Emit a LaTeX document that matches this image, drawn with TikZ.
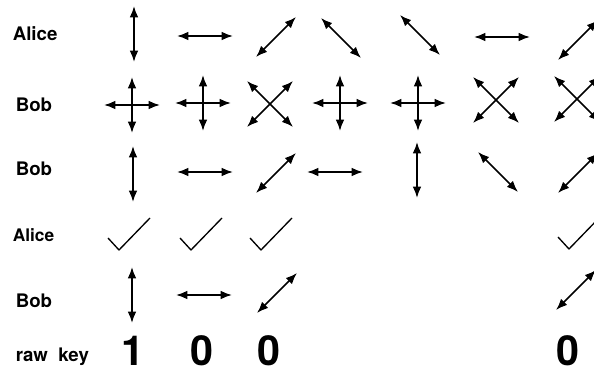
\documentclass[tikz,border=0pt]{standalone}
\usepackage{fontspec}
\setsansfont{TeX Gyre Heros}
\usetikzlibrary{arrows.meta}

\begin{document}
\begin{tikzpicture}[
  x=0.75pt, y=-0.75pt,
  >={Latex[length=8.5pt,width=6.5pt]}, line width=1.25pt,
  who/.style={anchor=base west, inner sep=0pt,
              font=\sffamily\bfseries\fontsize{14}{16}\selectfont},
  bit/.style={anchor=base, inner sep=0pt,
              font=\sffamily\bfseries\fontsize{31}{34}\selectfont},
  vert/.pic={\draw[<->] (0,-28) -- (0,28);},
  horz/.pic={\draw[<->] (-28,0) -- (28,0);},
  diag/.pic={\draw[<->] (-20,20) -- (20,-20);},
  adiag/.pic={\draw[<->] (-20,-20) -- (20,20);},
  plus/.pic={\draw[<->] (0,-28) -- (0,28); \draw[<->] (-28,0) -- (28,0);},
  cross/.pic={\draw[<->] (-23,23) -- (23,-23); \draw[<->] (-23,-23) -- (23,23);},
  tick/.pic={\draw[line width=1pt, line join=round]
             (-21,4) -- (-10,16) -- (21,-16);}]
\clip (0,0) rectangle (594,373);
\useasboundingbox (0,0) rectangle (594,373);

% row labels
\node[who] (alice) at (12,41) {Alice};
\node[who] (bob)   at (15,112) {Bob};
\node[who] (bobm)  at (15,176) {Bob};
\node[who, font=\sffamily\bfseries\fontsize{13}{15}\selectfont]
      (alicec) at (12,242) {Alice};
\node[who] (bobc)  at (15,308) {Bob};
\node[who] (raw)   at (15,362) {raw\ \ key};

% Alice sends
\pic at (134,34) {vert};
\pic at (205,36) {horz};
\pic at (276,37) {diag};
\pic at (341,38) {adiag};
\pic at (420,35) {adiag};
\pic at (502,37) {horz};
\pic at (578,40) {diag};

% Bob's bases
\pic at (132,105) {plus};
\pic at (203,103) {plus};
\pic at (270,104) {cross};
\pic at (340,103) {plus};
\pic at (418,103) {plus};
\pic at (496,100) {cross};
\pic at (577,99) {cross};

% Bob measures
\pic at (133,174) {vert};
\pic at (205,172) {horz};
\pic at (276,173) {diag};
\pic at (335,172) {horz};
\pic at (417,170) {vert};
\pic at (498,172) {adiag};
\pic at (578,173) {diag};

% Alice confirms
\pic at (129,234) {tick};
\pic at (201,234) {tick};
\pic at (271,234) {tick};
\pic at (579,233) {tick};

% Bob keeps
\pic at (132,295) {vert};
\pic at (204,295) {horz};
\pic at (277,293) {diag};
\pic at (576,290) {diag};

% key bits
\node[bit] (k1) at (133,366) {1};
\node[bit] (k2) at (202,366) {0};
\node[bit] (k3) at (269,366) {0};
\node[bit] (k7) at (568,366) {0};
\end{tikzpicture}
\end{document}
